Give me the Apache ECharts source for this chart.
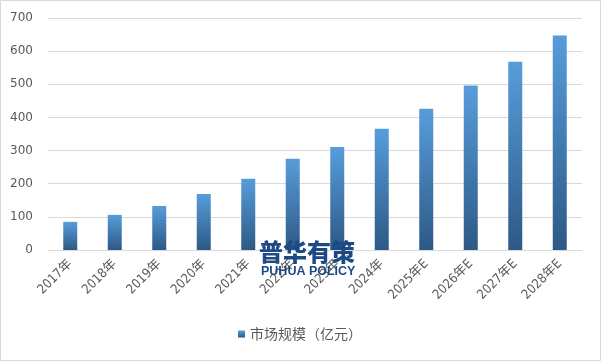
<!DOCTYPE html>
<html><head><meta charset="utf-8">
<script src="https://cdn.jsdelivr.net/npm/echarts@6/dist/echarts.min.js"></script>
<style>html,body{margin:0;padding:0;background:#fff}#c{width:601px;height:361px}</style>
</head><body><div id="c"></div>
<script>
const categories = ['2017年','2018年','2019年','2020年','2021年','2022年','2023年','2024年','2025年E','2026年E','2027年E','2028年E'];
const seriesName = '市场规模（亿元）';
const values = [85, 106, 133, 169, 215, 275, 311, 366, 426, 496, 568, 647];
const yTicks = {min: 0, max: 700, interval: 100};

const chart = echarts.init(document.getElementById('c'), null, {renderer: 'canvas'});
const grad = new echarts.graphic.LinearGradient(0, 0, 0, 1, [
  {offset: 0, color: '#579ddb'},
  {offset: 1, color: '#2d5986'}
]);
chart.setOption({
  animation: false,
  backgroundColor: '#fff',
  textStyle: {fontFamily: 'DejaVu Sans, Noto Sans CJK SC'},
  graphic: [
    {type: 'rect', z: 100, silent: true, shape: {x: 0.5, y: 0.5, width: 600, height: 360},
     style: {fill: 'none', stroke: '#d9d9d9', lineWidth: 1}},
    {type: 'text', z: 100, left: 259, top: 240,
     style: {text: '普华有策', fill: '#1d4a85', font: '900 24px "Noto Sans CJK SC"'}},
    {type: 'text', z: 100, left: 261, top: 265,
     style: {text: 'PUHUA POLICY', fill: '#1d4a85', font: 'bold 12.5px "Liberation Sans"'}}
  ],
  grid: {left: 48, right: 19, top: 18, bottom: 111, containLabel: false},
  legend: {
    data: [seriesName], bottom: 15, left: 233,
    itemWidth: 7, itemHeight: 7, itemGap: 5,
    icon: 'rect',
    textStyle: {color: '#595959', fontSize: 14, fontFamily: 'Noto Sans CJK SC'}
  },
  xAxis: {
    type: 'category', data: categories,
    axisLine: {show: true, lineStyle: {color: '#d9d9d9'}},
    axisTick: {show: false},
    axisLabel: {rotate: 45, color: '#595959', fontSize: 13, margin: 12, interval: 0,
      fontFamily: 'DejaVu Sans Condensed, Noto Sans CJK SC'}
  },
  yAxis: {
    type: 'value', min: yTicks.min, max: yTicks.max, interval: yTicks.interval,
    axisLine: {show: false}, axisTick: {show: false},
    splitLine: {lineStyle: {color: '#d9d9d9'}},
    axisLabel: {color: '#595959', fontSize: 12, margin: 15}
  },
  series: [{
    name: seriesName, type: 'bar', data: values, barWidth: 14,
    itemStyle: {color: grad}
  }]
});
</script></body></html>
